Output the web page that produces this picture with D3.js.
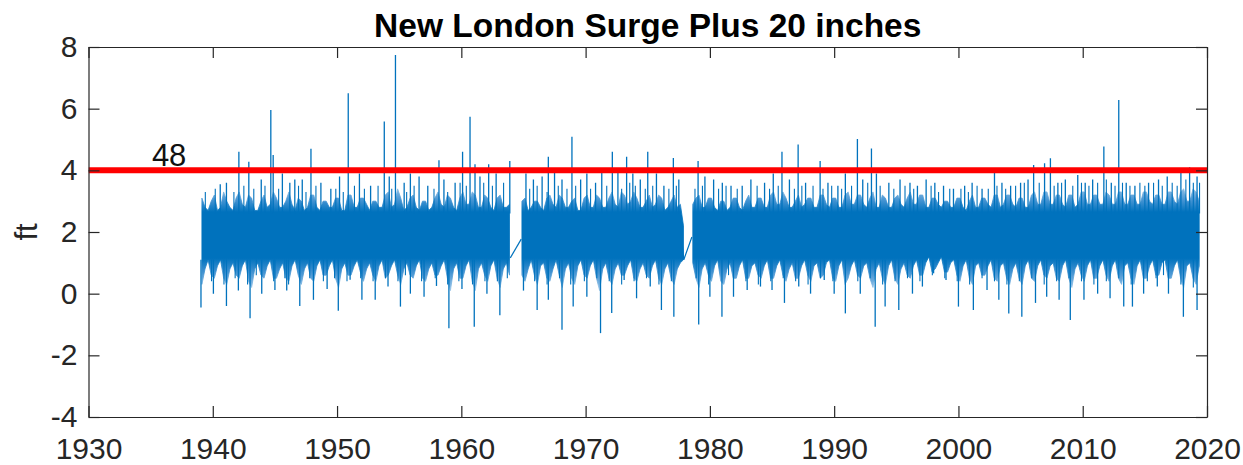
<!DOCTYPE html>
<html>
<head>
<meta charset="utf-8">
<script src="https://cdn.jsdelivr.net/npm/d3@7"></script>
<style>
  body { margin: 0; background: #fff; }
  text { font-family: "Liberation Sans", Arial, Helvetica, sans-serif; }
</style>
</head>
<body>
<div id="chart-area"></div>
<script>
// tick labels
const xTicks = [1930, 1940, 1950, 1960, 1970, 1980, 1990, 2000, 2010, 2020];
const yTicks = [-4, -2, 0, 2, 4, 6, 8];

// threshold line (ft) and its label
const threshold = 4;
const thresholdLabel = "48";

// one entry per year, four quarters each (null = no record)
const years = d3.range(1939, 2020);

// upper edge of the dense band, per quarter (ft)
const bulkHi = [
  3.1,2.8,2.7,3.0, 3.2,2.7,2.8,3.3, 3.0,2.8,2.7,3.1, 3.3,2.9,2.8,3.2, 3.1,2.7,2.7,3.0, // 1939-43
  3.2,2.8,2.9,3.3, 3.1,2.8,2.8,3.0, 3.3,2.9,2.7,3.1, 3.0,2.7,2.8,3.2, 3.2,2.8,2.7,3.0, // 1944-48
  3.0,2.8,2.8,3.1, 3.1,2.7,2.7,3.2, 3.2,2.8,2.8,3.1, 3.1,2.9,2.7,3.0, 3.0,2.8,2.8,3.2, // 1949-53
  3.3,2.8,2.9,3.4, 3.1,2.7,2.8,3.1, 3.2,2.8,2.7,3.0, 3.0,2.7,2.8,3.1, 3.3,2.9,2.8,3.2, // 1954-58
  3.1,2.8,2.7,3.1, 3.3,2.9,2.9,3.3, 3.2,2.8,2.8,3.2, 3.1,2.8,2.7,3.1, 3.2,2.8,2.8,2.9, // 1959-63
  null,null,null,3.0, 3.1,2.7,2.8,3.0, 3.0,2.8,2.7,3.1, 3.2,2.9,2.8,3.2, 3.1,2.8,2.8,3.0, // 1964-68
  3.1,2.7,2.7,3.1, 3.2,2.8,2.8,3.2, 3.1,2.8,2.8,3.1, 3.3,2.9,2.8,3.3, 3.2,2.9,3.0,3.3, // 1969-73
  3.1,2.8,2.8,3.0, 3.2,2.8,2.9,3.2, 3.1,2.7,2.8,3.0, 3.2,2.8,2.9,2.2, null,null,2.9,3.1, // 1974-78
  3.2,2.8,2.8,3.1, 3.1,2.8,2.7,3.0, 3.0,2.7,2.8,3.1, 3.1,2.8,2.7,3.0, 3.2,2.8,2.8,3.1, // 1979-83
  3.1,2.8,2.8,3.2, 3.3,2.9,2.9,3.3, 3.1,2.8,2.8,3.0, 3.2,2.8,2.9,3.1, 3.1,2.8,2.8,3.2, // 1984-88
  3.2,2.9,2.8,3.1, 3.1,2.8,2.8,3.2, 3.3,2.9,2.9,3.2, 3.2,2.9,2.8,3.1, 3.3,2.8,2.8,3.2, // 1989-93
  3.1,2.8,2.8,3.1, 3.2,2.9,2.8,3.1, 3.3,2.9,2.9,3.2, 3.2,2.8,2.8,3.1, 3.1,2.9,2.8,3.0, // 1994-98
  3.0,2.8,2.8,3.1, 3.1,2.8,2.7,3.0, 3.2,2.8,2.8,3.1, 3.1,2.9,2.8,3.2, 3.2,2.8,2.9,3.2, // 1999-2003
  3.2,2.9,2.8,3.1, 3.1,2.8,2.8,3.2, 3.3,2.9,2.9,3.3, 3.3,2.9,2.9,3.2, 3.2,2.9,2.8,3.2, // 2004-08
  3.2,2.8,2.9,3.3, 3.3,2.9,2.9,3.2, 3.2,2.9,2.9,3.3, 3.2,2.9,2.9,3.3, 3.3,2.9,2.9,3.2, // 2009-13
  3.2,2.9,2.9,3.3, 3.3,3.0,2.9,3.2, 3.2,2.9,2.9,3.3, 3.3,3.0,2.9,3.3, 3.4,3.0,3.0,3.4, // 2014-18
  3.3,3.0,null,null                                                                     // 2019
];

// lower edge of the dense band, per quarter (ft)
const bulkLo = [
  0.3,0.8,1.1,0.6, 0.5,0.9,1.1,0.5, 0.3,0.8,1.0,0.6, 0.5,0.9,1.1,0.4, 0.2,0.8,1.0,0.6, // 1939-43
  0.5,0.9,1.1,0.5, 0.5,0.8,1.0,0.5, 0.4,0.9,1.1,0.6, 0.3,0.8,1.0,0.5, 0.4,0.9,1.1,0.6, // 1944-48
  0.6,0.9,1.1,0.5, 0.2,0.8,1.0,0.6, 0.6,0.9,1.1,0.7, 0.4,0.8,1.0,0.6, 0.4,0.9,1.1,0.5, // 1949-53
  0.6,0.9,1.1,0.6, 0.3,0.8,1.0,0.6, 0.5,0.9,1.1,0.5, 0.4,0.8,1.0,0.6, 0.6,0.9,1.1,0.5, // 1954-58
  0.1,0.8,1.0,0.5, 0.5,0.9,1.1,0.4, 0.1,0.8,1.0,0.6, 0.4,0.9,1.1,0.5, 0.2,0.8,1.0,0.6, // 1959-63
  null,null,null,0.6, 0.4,0.8,1.1,0.6, 0.3,0.9,1.0,0.5, 0.4,0.8,1.1,0.6, 0.2,0.8,1.0,0.5, // 1964-68
  0.3,0.9,1.1,0.6, 0.5,0.9,1.1,0.5, 0.1,0.8,1.0,0.5, 0.3,0.8,1.0,0.6, 0.6,0.9,1.1,0.5, // 1969-73
  0.4,0.8,1.0,0.6, 0.5,0.9,1.1,0.5, 0.3,0.8,1.0,0.5, 0.3,0.8,1.0,1.1, null,null,1.0,0.5, // 1974-78
  0.2,0.8,1.0,0.6, 0.4,0.9,1.1,0.4, 0.3,0.8,1.0,0.5, 0.5,0.9,1.1,0.5, 0.5,0.9,1.0,0.6, // 1979-83
  0.5,0.9,1.1,0.5, 0.5,0.9,1.1,0.6, 0.4,0.8,1.0,0.5, 0.5,0.9,1.1,0.6, 0.4,0.9,1.0,0.5, // 1984-88
  0.6,1.0,1.1,0.5, 0.4,0.9,1.1,0.3, 0.5,0.9,1.1,0.6, 0.5,0.9,1.0,0.5, 0.2,0.8,1.0,0.5, // 1989-93
  0.3,0.9,1.1,0.5, 0.3,0.8,1.0,0.6, 0.5,0.9,1.1,0.6, 0.6,1.0,1.2,0.7, 0.8,1.0,1.2,0.7, // 1994-98
  0.7,1.0,1.1,0.6, 0.4,0.9,1.1,0.5, 0.3,0.9,1.0,0.6, 0.6,0.9,1.1,0.5, 0.4,0.9,1.0,0.5, // 1999-2003
  0.3,0.8,1.0,0.5, 0.3,0.9,1.1,0.5, 0.4,0.9,1.1,0.6, 0.5,0.9,1.0,0.5, 0.4,0.9,1.1,0.5, // 2004-08
  0.2,0.8,1.0,0.6, 0.4,0.9,1.1,0.5, 0.5,0.9,1.1,0.6, 0.4,0.9,1.1,0.5, 0.3,0.9,1.0,0.5, // 2009-13
  0.3,0.9,1.1,0.5, 0.5,0.9,1.1,0.6, 0.6,1.0,1.1,0.5, 0.5,0.9,1.1,0.5, 0.2,0.9,1.0,0.5, // 2014-18
  0.3,0.9,null,null                                                                     // 2019
];

// single storm peaks rising out of the band [year, ft]
const upSpikes = [
  [1940.6,3.55],[1941.1,3.6],[1942.1,4.6],[1942.9,4.28],[1943.9,3.7],[1944.67,5.96],[1944.86,4.5],
  [1945.6,3.9],[1946.2,3.6],[1946.6,3.7],[1947.2,3.7],[1947.9,4.7],[1948.7,3.6],[1949.5,3.4],
  [1950.2,3.8],[1950.9,6.5],[1951.8,3.9],[1952.7,3.5],[1953.8,5.58],[1954.2,3.8],[1954.7,7.74],
  [1955.4,3.6],[1955.9,3.9],[1956.6,3.8],[1957.3,3.5],[1958.2,4.33],[1958.6,3.7],[1959.5,3.6],
  [1960.1,4.6],[1960.7,5.74],[1961.1,4.2],[1961.5,3.8],[1962.2,4.2],[1962.8,3.9],[1963.9,4.3],
  [1965.2,3.9],[1965.8,3.7],[1966.5,3.8],[1967.0,4.44],[1967.5,4.0],[1968.1,3.7],[1968.9,5.09],
  [1969.6,3.7],[1970.1,3.9],[1970.8,3.6],[1971.3,4.0],[1972.15,4.6],[1972.6,4.0],[1973.3,4.44],
  [1973.8,3.9],[1974.4,3.7],[1975.0,4.6],[1975.7,3.9],[1976.3,3.5],[1977.06,4.4],[1977.5,3.7],
  [1979.05,4.3],[1979.6,3.8],[1980.3,3.7],[1981.0,3.6],[1981.7,3.5],[1982.6,3.5],[1983.3,3.7],
  [1984.4,3.6],[1985.1,3.9],[1985.8,4.6],[1986.4,3.7],[1987.1,4.84],[1987.7,3.6],[1988.87,4.3],
  [1989.5,3.6],[1990.3,3.5],[1990.9,3.9],[1991.87,5.02],[1992.3,3.7],[1993.0,4.71],[1993.4,3.9],
  [1994.4,3.6],[1995.3,3.7],[1996.1,3.6],[1996.7,3.5],[1997.4,3.7],[1998.1,3.6],[1998.8,3.5],
  [1999.6,3.4],[2000.5,3.5],[2001.1,3.6],[2001.9,3.4],[2002.9,3.96],[2003.5,3.6],[2004.2,3.5],
  [2005.0,3.6],[2005.6,3.7],[2006.05,4.17],[2006.93,4.23],[2007.4,4.39],[2008.0,3.6],[2008.6,3.7],
  [2009.6,3.85],[2010.2,3.6],[2010.8,3.7],[2011.7,4.77],[2012.3,3.6],[2012.9,6.28],[2013.5,3.6],
  [2014.2,3.5],[2015.3,3.6],[2016.1,3.7],[2016.8,3.8],[2017.9,4.0],[2018.6,4.1],[2019.2,3.8]
];

// smaller peaks that make the ragged top of the band [year, ft]
const midUpSpikes = [
  [1939.4,3.3],[1940.2,3.4],[1941.7,3.3],[1942.5,3.5],[1943.3,3.4],[1944.2,3.5],[1945.3,3.4],
  [1946.9,3.5],[1947.5,3.3],[1948.3,3.5],[1949.9,3.4],[1950.5,3.3],[1951.4,3.5],[1952.2,3.4],
  [1953.3,3.5],[1954.4,3.4],[1955.6,3.3],[1956.2,3.5],[1957.8,3.4],[1958.9,3.3],[1959.9,3.6],
  [1960.4,3.5],[1961.8,3.6],[1962.5,3.5],[1963.4,3.6],[1965.5,3.4],[1966.1,3.5],[1966.9,3.3],
  [1967.8,3.5],[1968.5,3.4],[1969.2,3.5],[1970.4,3.4],[1971.7,3.5],[1972.9,3.4],[1973.55,3.6],
  [1974.0,3.5],[1974.8,3.4],[1975.4,3.5],[1976.7,3.4],[1977.3,3.5],[1978.8,3.4],[1979.4,3.5],
  [1980.7,3.4],[1981.3,3.5],[1982.2,3.4],[1983.8,3.5],[1984.8,3.4],[1985.5,3.5],[1986.8,3.4],
  [1987.4,3.5],[1988.3,3.5],[1989.1,3.4],[1989.8,3.5],[1990.6,3.4],[1991.4,3.5],[1992.7,3.6],
  [1993.7,3.5],[1994.8,3.4],[1995.7,3.5],[1996.4,3.4],[1997.8,3.5],[1998.4,3.3],[1999.3,3.4],
  [2000.2,3.4],[2000.8,3.3],[2001.5,3.5],[2002.4,3.4],[2003.1,3.5],[2003.8,3.4],[2004.6,3.5],
  [2005.3,3.6],[2006.5,3.6],[2007.7,3.5],[2008.3,3.6],[2009.2,3.5],[2009.9,3.6],[2010.5,3.5],
  [2011.2,3.6],[2011.9,3.7],[2012.6,3.5],[2013.2,3.6],[2013.8,3.5],[2014.6,3.6],[2015.0,3.5],
  [2015.7,3.6],[2016.4,3.5],[2017.2,3.6],[2017.6,3.5],[2018.3,3.7],[2018.9,3.6],[2019.4,3.6]
];

// deepest winter lows [year, ft]
const downSpikes = [
  [1939.05,-0.45],[1940.05,0.0],[1941.1,-0.4],[1942.06,0.1],[1943.0,-0.8],[1943.94,0.0],[1945.0,0.12],
  [1945.95,0.1],[1947.0,-0.4],[1948.1,-0.2],[1949.2,0.15],[1950.1,-0.55],[1951.05,0.45],[1952.0,-0.2],
  [1953.07,-0.2],[1954.1,0.23],[1955.1,-0.42],[1955.9,0.0],[1957.0,-0.1],[1958.0,0.25],[1959.0,-1.12],
  [1960.05,0.15],[1961.04,-1.07],[1962.06,0.0],[1963.1,-0.7],[1965.0,0.1],[1966.1,-0.53],[1967.0,-0.2],
  [1968.1,-1.17],[1969.0,-0.42],[1970.1,-0.1],[1971.2,-1.28],[1972.1,-0.63],[1973.1,0.44],[1974.1,-0.15],
  [1975.2,0.23],[1976.1,-0.53],[1977.1,-0.75],[1979.1,-1.0],[1980.0,-0.1],[1980.97,-0.75],[1981.9,-0.1],
  [1983.0,0.12],[1984.07,0.23],[1985.0,0.12],[1986.0,-0.3],[1987.15,0.23],[1988.1,0.0],[1989.2,0.44],
  [1990.0,0.0],[1990.9,-0.64],[1992.1,0.0],[1993.3,-1.07],[1994.1,-0.42],[1995.2,-0.53],[1996.3,0.0],
  [1997.1,0.23],[1998.0,0.66],[1999.0,0.44],[2000.0,-0.42],[2001.2,-0.53],[2002.3,0.12],[2003.25,-0.2],
  [2004.05,-0.64],[2005.1,-0.75],[2006.2,-0.3],[2007.1,-0.1],[2008.1,-0.2],[2009.0,-0.85],[2010.1,-0.2],
  [2011.2,0.0],[2012.2,-0.15],[2013.3,-0.42],[2014.0,-0.42],[2014.9,0.0],[2016.0,0.23],[2016.9,0.0],
  [2018.1,-0.75],[2019.2,-0.53]
];

// smaller lows along the bottom of the band [year, ft]
const midDownSpikes = [
  [1939.9,0.4],[1940.9,0.3],[1941.8,0.5],[1942.8,0.3],[1943.5,0.6],[1944.9,0.4],[1945.8,0.5],
  [1946.1,0.3],[1947.8,0.5],[1948.9,0.4],[1949.8,0.5],[1950.8,0.4],[1951.9,0.5],[1952.9,0.4],
  [1953.9,0.5],[1954.9,0.4],[1955.5,0.6],[1956.8,0.4],[1957.9,0.5],[1958.9,0.3],[1959.8,0.4],
  [1960.9,0.3],[1961.9,0.4],[1962.9,0.4],[1963.7,0.5],[1965.9,0.4],[1966.9,0.3],[1967.9,0.5],
  [1968.8,0.3],[1969.9,0.4],[1970.9,0.5],[1971.9,0.4],[1972.9,0.3],[1973.9,0.4],[1974.9,0.5],
  [1975.9,0.3],[1976.9,0.4],[1978.9,0.5],[1979.9,0.3],[1981.5,0.6],[1982.9,0.4],[1983.9,0.3],
  [1984.9,0.4],[1985.9,0.5],[1986.9,0.4],[1987.9,0.3],[1988.9,0.5],[1989.9,0.4],[1991.9,0.4],
  [1992.9,0.5],[1993.9,0.3],[1994.9,0.4],[1995.9,0.5],[1996.9,0.4],[1997.9,0.6],[1998.9,0.5],
  [1999.9,0.4],[2000.9,0.3],[2001.9,0.5],[2002.9,0.4],[2003.9,0.3],[2004.9,0.4],[2005.9,0.5],
  [2006.9,0.3],[2007.9,0.4],[2008.9,0.5],[2009.9,0.4],[2010.9,0.3],[2011.9,0.4],[2012.9,0.5],
  [2013.9,0.3],[2015.2,0.4],[2015.9,0.5],[2016.5,0.6],[2017.9,0.3],[2018.9,0.2]
];

// straight joins across the two record gaps [year, ft]
const gapLinks = [
  [[1963.94,1.16],[1964.82,1.77]],
  [[1977.7,1.9],[1977.9,1.1],[1978.55,1.84]]
];

const blue = "#0072BD", axisColor = "#262626";

// set the dimensions and margins of the graph
const margin = {top: 47, right: 36, bottom: 48, left: 88.5},
    width = 1243 - margin.left - margin.right,
    height = 465 - margin.top - margin.bottom;

const root = d3.select("#chart-area")
  .append("svg")
    .attr("width", 1243)
    .attr("height", 465)
    .style("display", "block")
    .style("background", "#fff");

const svg = root.append("g")
    .attr("transform", `translate(${margin.left}, ${margin.top})`);

const x = d3.scaleLinear().domain([1930, 2020]).range([0, width]);
const y = d3.scaleLinear().domain([-4, 8]).range([height, 0]);

const defs = svg.append("defs");
defs.append("clipPath").attr("id", "plot-clip")
  .append("rect").attr("width", width).attr("height", height);

// the dense band looks lighter toward its ragged edges
const grad = defs.append("linearGradient")
  .attr("id", "band-fade")
  .attr("gradientUnits", "userSpaceOnUse")
  .attr("x1", 0).attr("x2", 0)
  .attr("y1", y(3.5)).attr("y2", y(-0.5));
[[3.5, "#9fc8e9"], [3.0, "#3f91d1"], [2.65, blue], [1.15, blue], [0.75, "#3a8ecf"], [0.2, "#8fbfe6"], [-0.5, "#b5d5ef"]]
  .forEach(([v, c]) => grad.append("stop")
    .attr("offset", (3.5 - v) / 4.0)
    .attr("stop-color", c));

const plot = svg.append("g").attr("clip-path", "url(#plot-clip)");

// quarterly bins of the band
const bins = [];
years.forEach((yr, i) => {
  for (let q = 0; q < 4; q++) {
    bins.push({t: yr + q * 0.25 + 0.125, hi: bulkHi[i * 4 + q], lo: bulkLo[i * 4 + q]});
  }
});

const band = d3.area()
  .defined(d => d.hi != null)
  .x(d => x(d.t))
  .y0(d => y(d.lo))
  .y1(d => y(d.hi));

plot.append("path")
  .datum(bins)
  .attr("d", band)
  .attr("fill", "url(#band-fade)")
  .attr("stroke", "url(#band-fade)")
  .attr("stroke-width", 0.8);

// spikes
function spikes(data, base, w) {
  plot.append("g").selectAll("line")
    .data(data)
    .enter().append("line")
      .attr("x1", d => x(d[0])).attr("x2", d => x(d[0]))
      .attr("y1", y(base)).attr("y2", d => y(d[1]))
      .attr("stroke", blue).attr("stroke-width", w);
}
spikes(midUpSpikes, 2.6, 1.1);
spikes(midDownSpikes, 1.1, 1.1);
spikes(upSpikes, 2.6, 1.3);
spikes(downSpikes, 1.1, 1.3);

const line = d3.line().x(d => x(d[0])).y(d => y(d[1]));
plot.selectAll(".gap")
  .data(gapLinks)
  .enter().append("path")
    .attr("d", line)
    .attr("fill", "none")
    .attr("stroke", blue)
    .attr("stroke-width", 1.2);

// threshold
plot.append("line")
  .attr("x1", x(1930)).attr("x2", x(2020))
  .attr("y1", y(threshold)).attr("y2", y(threshold))
  .attr("stroke", "#ff0000")
  .attr("stroke-width", 6);

svg.append("text")
  .attr("x", x(1935.1))
  .attr("y", y(threshold) - 4)
  .attr("font-size", 31)
  .attr("fill", "#111")
  .text(thresholdLabel);

// axes, ticks pointing inward on all four sides
function styleAxis(g) {
  g.select(".domain").attr("stroke", axisColor).attr("stroke-width", 1.2);
  g.selectAll(".tick line").attr("stroke", axisColor).attr("stroke-width", 1.2);
  g.selectAll(".tick text").attr("fill", axisColor).attr("font-size", 30).attr("font-family", null);
}

svg.append("g")
  .attr("transform", `translate(0, ${height})`)
  .call(d3.axisBottom(x).tickValues(xTicks).tickSizeInner(-11).tickSizeOuter(0)
    .tickPadding(21).tickFormat(d => String(d)))
  .call(styleAxis);

svg.append("g")
  .call(d3.axisTop(x).tickValues(xTicks).tickSizeInner(-11).tickSizeOuter(0).tickFormat(""))
  .call(styleAxis);

svg.append("g")
  .call(d3.axisLeft(y).tickValues(yTicks).tickSizeInner(-11).tickSizeOuter(0)
    .tickPadding(11).tickFormat(d => String(d)))
  .call(styleAxis);

svg.append("g")
  .attr("transform", `translate(${width}, 0)`)
  .call(d3.axisRight(y).tickValues(yTicks).tickSizeInner(-11).tickSizeOuter(0).tickFormat(""))
  .call(styleAxis);

// title and y label
root.append("text")
  .attr("x", margin.left + width / 2)
  .attr("y", 37)
  .attr("text-anchor", "middle")
  .attr("font-size", 33.5)
  .attr("font-weight", "bold")
  .attr("fill", "#000")
  .text("New London Surge Plus 20 inches");

root.append("text")
  .attr("transform", `translate(37, ${margin.top + height / 2}) rotate(-90)`)
  .attr("text-anchor", "middle")
  .attr("font-size", 31)
  .attr("fill", axisColor)
  .text("ft");
</script>
</body>
</html>
